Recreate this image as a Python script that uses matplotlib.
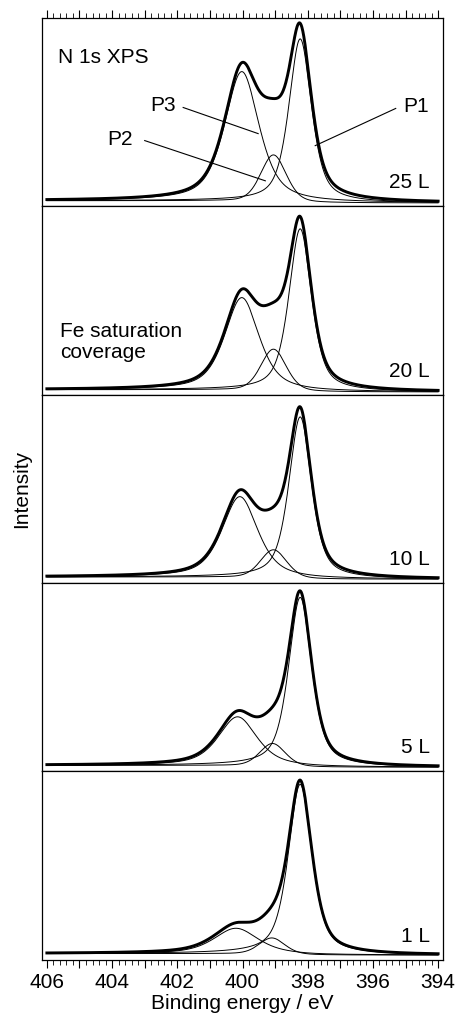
#!/usr/bin/env python3
"""
N 1s XPS of Fe saturation coverage, stacked panels for each exposure
with fitted components P1, P2, P3 on a Shirley-type background.
"""

import numpy as np
import matplotlib
matplotlib.use("Agg")
import matplotlib.pyplot as plt
from matplotlib.ticker import MultipleLocator, FuncFormatter

plt.rcParams["font.family"] = ["Liberation Sans", "DejaVu Sans"]
plt.rcParams["font.size"] = 15

# exposures, top to bottom
exposures = ["25 L", "20 L", "10 L", "5 L", "1 L"]

# fitted component parameters (height in panel units)
p1_center = [398.23, 398.23, 398.23, 398.23, 398.23]
p1_height = [0.87, 0.86, 0.86, 0.90, 0.90]
p1_fwhm = [0.82, 0.82, 0.82, 0.84, 0.86]

p2_center = [399.05, 399.05, 399.05, 399.08, 399.10]
p2_height = [0.25, 0.22, 0.15, 0.12, 0.085]
p2_fwhm = [0.92, 0.92, 0.95, 0.92, 0.92]

p3_center = [400.02, 400.02, 400.08, 400.15, 400.20]
p3_height = [0.69, 0.49, 0.43, 0.26, 0.135]
p3_fwhm = [1.25, 1.25, 1.30, 1.40, 1.60]

baseline = [0.016, 0.016, 0.02, 0.02, 0.026]
shirley_step = [0.012, 0.012, 0.012, 0.01, 0.008]

# energy grid of the spectra
energy = np.linspace(394.0, 406.0, 1201)

# panel edges in figure pixels (top of each panel, then bottom of last)
FIG_W, FIG_H = 455, 1025
PANEL_EDGES = [18, 206, 395, 583, 771, 960]
AX_LEFT, AX_RIGHT = 42, 443


def pseudo_voigt(e, center, height, fwhm, eta):
    d = (e - center) / fwhm
    gauss = np.exp(-4.0 * np.log(2.0) * d ** 2)
    lorentz = 1.0 / (1.0 + 4.0 * d ** 2)
    return height * ((1.0 - eta) * gauss + eta * lorentz)


def shirley(e, peaks, base, step):
    total = np.cumsum(peaks)
    return base + step * total / total[-1]


fig = plt.figure(figsize=(FIG_W / 100, FIG_H / 100), dpi=100)

axes = []
for i, label in enumerate(exposures):
    top = PANEL_EDGES[i]
    bot = PANEL_EDGES[i + 1]
    ax = fig.add_axes([
        AX_LEFT / FIG_W,
        1 - bot / FIG_H,
        (AX_RIGHT - AX_LEFT) / FIG_W,
        (bot - top) / FIG_H,
    ])
    axes.append(ax)

    p1 = pseudo_voigt(energy, p1_center[i], p1_height[i], p1_fwhm[i], 0.6)
    p2 = pseudo_voigt(energy, p2_center[i], p2_height[i], p2_fwhm[i], 0.3)
    p3 = pseudo_voigt(energy, p3_center[i], p3_height[i], p3_fwhm[i], 0.6)
    bg = shirley(energy, p1 + p2 + p3, baseline[i], shirley_step[i])
    fit = bg + p1 + p2 + p3

    # measured spectrum (drawn as the fit envelope) and the components
    ax.plot(energy, fit, color="black", lw=2.1, zorder=3)
    for comp in (p1, p2, p3):
        ax.plot(energy, bg + comp, color="black", lw=0.7, zorder=4)

    ax.set_xlim(406.15, 393.85)
    ax.set_ylim(0, 1)
    ax.set_yticks([])
    for s in ax.spines.values():
        s.set_linewidth(0.9)

    ax.text(0.967, 0.125, label, transform=ax.transAxes, ha="right", va="center")

    ax.xaxis.set_major_locator(MultipleLocator(1))
    ax.xaxis.set_minor_locator(MultipleLocator(0.2))
    ax.tick_params(axis="x", which="major", length=6, width=0.8, direction="out")
    ax.tick_params(axis="x", which="minor", length=3.5, width=0.6, direction="out")
    if i == 0:
        ax.tick_params(axis="x", which="both", top=True, bottom=False,
                       labeltop=False, labelbottom=False)
    elif i == len(exposures) - 1:
        ax.tick_params(axis="x", which="both", top=False, bottom=True,
                       labelbottom=True, pad=3)
        ax.xaxis.set_major_formatter(
            FuncFormatter(lambda v, pos: f"{v:.0f}" if round(v) % 2 == 0 else ""))
        ax.set_xlabel("Binding energy / eV", labelpad=2)
    else:
        ax.tick_params(axis="x", which="both", top=False, bottom=False,
                       labelbottom=False)

# annotations in the top panel
ax0 = axes[0]
ax0.text(405.65, 0.79, "N 1s XPS", ha="left", va="center")
ax0.text(402.45, 0.535, "P3", ha="center", va="center")
ax0.plot([401.82, 399.52], [0.524, 0.385], color="black", lw=0.8)
ax0.text(403.75, 0.356, "P2", ha="center", va="center")
ax0.plot([403.0, 399.3], [0.348, 0.134], color="black", lw=0.8)
ax0.text(394.67, 0.53, "P1", ha="center", va="center")
ax0.plot([395.3, 397.77], [0.519, 0.321], color="black", lw=0.8)

axes[1].text(405.6, 0.28, "Fe saturation\ncoverage", ha="left", va="center",
             linespacing=1.1)

fig.text(22 / FIG_W, 1 - 489 / FIG_H, "Intensity", rotation=90,
         ha="center", va="center")

fig.savefig("out.png", dpi=100)
